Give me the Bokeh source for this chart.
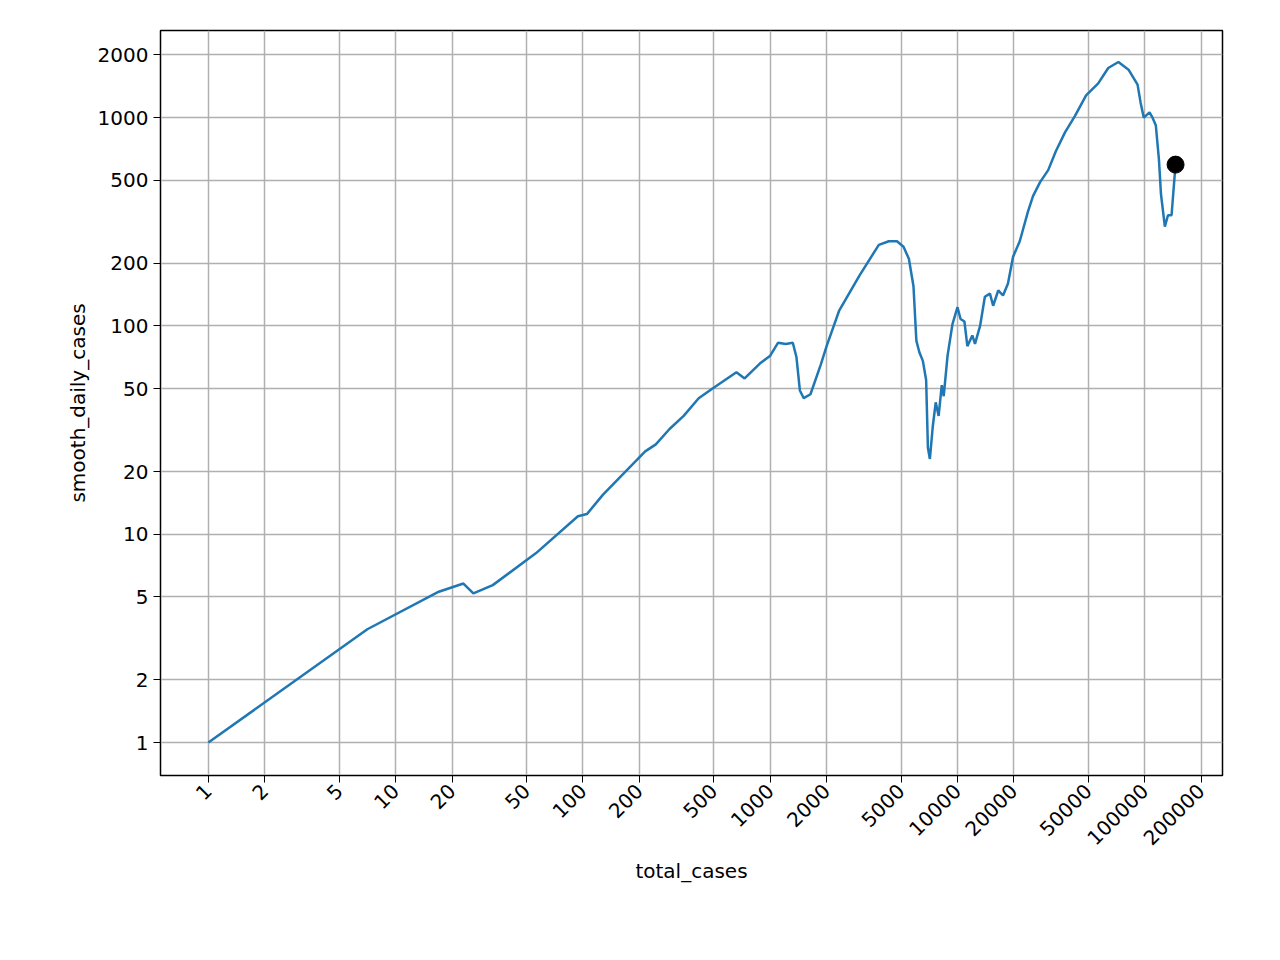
import math
from bokeh.plotting import figure
from bokeh.models import FixedTicker, Range1d, CustomJSTickFormatter
from bokeh.embed import file_html
from bokeh.resources import INLINE

total_cases = [1, 7.06, 17, 23, 26, 33, 56, 94, 105, 128, 215, 245, 290, 345, 415, 490,
               660, 730, 880, 1000, 1100, 1210, 1320, 1380, 1440, 1510, 1640, 1860, 2000,
               2330, 3000, 3800, 4300, 4750, 5150, 5500, 5820, 6030, 6250, 6530, 6800,
               6950, 7120, 7380, 7650, 7930, 8240, 8440, 8850, 9400, 10000, 10380, 10890,
               11290, 12000, 12400, 13200, 14000, 14900, 15500, 16500, 17500, 18600,
               19800, 21500, 23800, 25300, 27600, 30500, 33500, 37500, 42400, 48600,
               56400, 63800, 72300, 81900, 91500, 95000, 98800, 106000, 110000, 114500,
               119000, 122000, 128000, 133000, 139000, 146000]
smooth_daily_cases = [1, 3.5, 5.3, 5.8, 5.2, 5.7, 8.1, 12.2, 12.5, 15.5, 25, 27, 32, 37, 45,
                      50, 60, 56, 66, 72, 83, 82, 83, 71, 49, 45, 47, 65, 80, 118, 175, 245,
                      255, 255, 240, 210, 155, 85, 75, 68, 55, 26, 23, 33, 43, 37, 52, 46,
                      72, 102, 123, 108, 105, 80, 90, 82, 100, 138, 143, 125, 148, 140, 160,
                      215, 255, 355, 420, 490, 560, 690, 850, 1020, 1280, 1460, 1730, 1850,
                      1700, 1440, 1180, 1000, 1060, 1000, 920, 630, 430, 300, 340, 340, 600]
last_point_x = [146000]
last_point_y = [595]

x_ticks = [1, 2, 5, 10, 20, 50, 100, 200, 500, 1000, 2000, 5000, 10000, 20000,
           50000, 100000, 200000]
y_ticks = [1, 2, 5, 10, 20, 50, 100, 200, 500, 1000, 2000]

p = figure(width=1264, height=944, x_axis_type="log", y_axis_type="log",
           x_range=Range1d(0.555, 260000), y_range=Range1d(0.695, 2620),
           output_backend="svg", toolbar_location=None,
           min_border_left=160, min_border_top=30, min_border_right=42, min_border_bottom=169)

p.line(total_cases, smooth_daily_cases, line_color="#1f77b4", line_width=2.5)
p.scatter(last_point_x, last_point_y, size=17, color="black")

fmt = CustomJSTickFormatter(code="return String(Math.round(tick));")
p.xaxis.ticker = FixedTicker(ticks=x_ticks, minor_ticks=[])
p.yaxis.ticker = FixedTicker(ticks=y_ticks, minor_ticks=[])
for ax in (p.xaxis, p.yaxis):
    ax.formatter = fmt
    ax.major_label_text_font = "DejaVu Sans"
    ax.major_label_text_font_size = "20px"
    ax.major_label_text_color = "black"
    ax.axis_label_text_font = "DejaVu Sans"
    ax.axis_label_text_font_size = "20px"
    ax.axis_label_text_font_style = "normal"
    ax.axis_label_text_color = "black"
    ax.major_tick_out = 7
    ax.major_tick_in = 0
    ax.minor_tick_line_color = None
    ax.axis_line_color = "black"
p.xaxis.axis_label = "total_cases"
p.yaxis.axis_label = "smooth_daily_cases"
p.xaxis.major_label_orientation = math.pi / 4

p.grid.grid_line_color = "#b0b0b0"
p.grid.grid_line_width = 1.5
p.outline_line_color = "black"
p.outline_line_width = 1.5

open("out.html", "w").write(file_html(p, INLINE))
